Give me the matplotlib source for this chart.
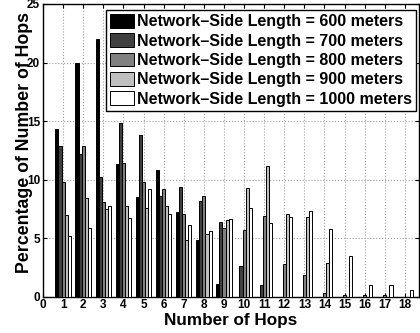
import numpy as np
import matplotlib.pyplot as plt

#%% datos
saltos = np.arange(1, 19)

lado_600 = [14.3, 20.0, 22.0, 11.35, 8.5, 10.8, 7.25, 4.85, 1.1, 0, 0, 0, 0, 0, 0, 0, 0, 0]
lado_700 = [12.9, 12.2, 10.2, 14.8, 13.8, 8.6, 9.4, 8.15, 6.37, 2.66, 0.96, 0, 0, 0, 0, 0, 0, 0]
lado_800 = [9.8, 12.9, 8.05, 11.45, 9.77, 9.2, 7.05, 8.58, 5.9, 5.69, 6.88, 2.8, 1.86, 0.3, 0.15, 0.15, 0.15, 0]
lado_900 = [7.0, 8.45, 7.5, 7.75, 7.6, 7.73, 4.87, 5.33, 6.52, 9.32, 11.13, 7.03, 6.8, 2.86, 0, 0, 0, 0]
lado_1000 = [5.16, 5.87, 7.75, 6.72, 9.2, 7.08, 6.13, 5.61, 6.64, 7.59, 6.26, 6.77, 7.33, 5.78, 3.48, 1.0, 0.98, 0.55]

series = [lado_600, lado_700, lado_800, lado_900, lado_1000]
etiquetas = ['Network\u2013Side Length = 600 meters',
             'Network\u2013Side Length = 700 meters',
             'Network\u2013Side Length = 800 meters',
             'Network\u2013Side Length = 900 meters',
             'Network\u2013Side Length = 1000 meters']
colores = ['#000000', '#404040', '#808080', '#bfbfbf', '#ffffff']

#%% grafico
plt.rcParams['font.family'] = ['Liberation Sans', 'DejaVu Sans']
plt.rcParams['font.weight'] = 'bold'

fig = plt.figure(figsize=(4.2, 3.33), dpi=100)
ax = fig.add_axes([0.1024, 0.109, 0.8952, 0.879])

ancho = 0.154
for i in range(len(series)):
    ax.bar(saltos + (i - 2) * ancho, series[i], width=ancho, color=colores[i],
           edgecolor='black', linewidth=0.7, label=etiquetas[i], zorder=3)

ax.set_xlim(0, 18.7)
ax.set_ylim(0, 25)
ax.set_xticks(np.arange(0, 19))
ax.set_yticks(np.arange(0, 26, 5))
ax.grid(True, linestyle=':', color='#a0a0a0', linewidth=0.8, zorder=0)
ax.tick_params(direction='in', top=True, right=True, length=3, width=0.8,
               labelsize=8.5, pad=2)
for t in ax.get_xticklabels() + ax.get_yticklabels():
    t.set_fontweight('bold')
for s in ax.spines.values():
    s.set_linewidth(1.0)

ax.set_xlabel('Number of Hops', fontsize=12.3, fontweight='bold', labelpad=1)
ax.set_ylabel('Percentage of Number of Hops', fontsize=12.8, fontweight='bold')
ax.yaxis.set_label_coords(-0.027, 0.528)

leg = ax.legend(loc='upper right', bbox_to_anchor=(0.993, 0.98), fontsize=11.5,
                frameon=True, fancybox=False, edgecolor='black',
                handlelength=1.5, handleheight=0.95, handletextpad=0.2,
                labelspacing=0.25, borderpad=0.25, borderaxespad=0.0)
leg.get_frame().set_linewidth(1.0)
leg.get_frame().set_alpha(1)
for t in leg.get_texts():
    t.set_fontweight('bold')

plt.savefig('out.png', dpi=100)
